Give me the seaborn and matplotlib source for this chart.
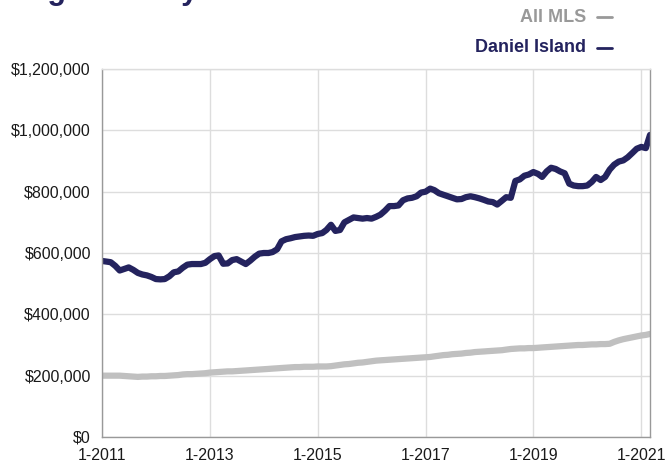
import pandas as pd
import matplotlib.pyplot as plt
from matplotlib.ticker import FuncFormatter
import seaborn as sns

# monthly median prices, Jan 2011 - Mar 2021
months = pd.date_range('2011-01-01', '2021-03-01', freq='MS')

daniel_island = [
    574, 572, 570, 558, 543, 548, 553, 545, 535, 530, 527, 522,
    515, 514, 515, 524, 537, 540, 552, 562, 564, 564, 564, 568,
    580, 590, 592, 565, 566, 577, 580, 572, 564, 575, 588, 598,
    600, 600, 603, 612, 638, 645, 648, 652, 654, 656, 657, 656,
    662, 665, 675, 692, 672, 675, 700, 708, 716, 714, 712, 714,
    712, 718, 725, 738, 753, 753, 755, 772, 778, 780, 785, 797,
    800, 810, 805, 795, 790, 785, 780, 775, 776, 782, 785, 782,
    778, 773, 768, 766, 758, 770, 782, 780, 835, 840, 852, 856,
    864, 858, 848, 866, 878, 874, 866, 860, 826, 820, 818, 818,
    820, 832, 848, 838, 848, 872, 888, 898, 902, 912, 926, 940,
    946, 942, 985,
]

all_mls = [
    200, 200, 200, 200, 200, 199, 198, 197, 196, 197, 197, 198,
    198, 199, 199, 200, 201, 202, 204, 205, 205, 206, 207, 208,
    210, 211, 212, 213, 214, 214, 215, 216, 217, 218, 219, 220,
    221, 222, 223, 224, 225, 226, 227, 228, 228, 229, 229, 229,
    230, 230, 230, 231, 233, 235, 237, 238, 240, 242, 243, 245,
    247, 249, 250, 251, 252, 253, 254, 255, 256, 257, 258, 259,
    260, 261, 263, 265, 267, 268, 270, 271, 272, 274, 275, 277,
    278, 279, 280, 281, 282, 283, 285, 287, 288, 289, 289, 290,
    290, 291, 292, 293, 294, 295, 296, 297, 298, 299, 300, 300,
    301, 302, 302, 303, 303, 304, 310, 315, 319, 322, 325, 328,
    331, 333, 336,
]

series_names = ['All MLS', 'Daniel Island']
colors = {'All MLS': '#c0c0c0', 'Daniel Island': '#24235e'}
legend_colors = {'All MLS': '#999999', 'Daniel Island': '#24235e'}

df = pd.concat([
    pd.DataFrame({'month': months, 'price': [v * 1000 for v in all_mls], 'area': 'All MLS'}),
    pd.DataFrame({'month': months, 'price': [v * 1000 for v in daniel_island], 'area': 'Daniel Island'}),
])

sns.set_style('white')
plt.rcParams['font.family'] = ['Liberation Sans', 'DejaVu Sans']

fig = plt.figure(figsize=(6.66, 4.66), dpi=100)
ax = fig.add_axes([102 / 666, 29 / 466, 548 / 666, 368 / 466])

sns.lineplot(data=df, x='month', y='price', hue='area', palette=colors,
             hue_order=series_names, linewidth=4.5, legend=False, ax=ax)

ax.set_xlim(months[0], months[-1])
ax.set_ylim(0, 1200000)
ax.set_yticks(range(0, 1200001, 200000))
ax.yaxis.set_major_formatter(FuncFormatter(lambda v, p: '$' + format(int(v), ',')))
xt = pd.to_datetime(['2011-01-01', '2013-01-01', '2015-01-01', '2017-01-01', '2019-01-01', '2021-01-01'])
ax.set_xticks(xt)
ax.set_xticklabels(['1-' + str(d.year) for d in xt])
ax.set_xlabel('')
ax.set_ylabel('')

ax.grid(True, color='#dddddd', linewidth=1)
ax.set_axisbelow(True)
for s in ax.spines.values():
    s.set_color('#999999')
    s.set_linewidth(1)
ax.spines['top'].set_color('#dddddd')
ax.tick_params(axis='both', which='major', length=5, width=1, color='#999999',
               labelsize=11.5, labelcolor='#1a1a1a', direction='out', pad=3)

# legend drawn as right-aligned text with a short dash after it
for name, ypix in zip(series_names, [17, 48]):
    fig.text(586 / 666, 1 - ypix / 466, name, ha='right', va='center', fontsize=13,
             fontweight='bold', color=legend_colors[name])
    fig.add_artist(plt.Line2D([597 / 666, 612 / 666], [1 - ypix / 466] * 2,
                              color=legend_colors[name], linewidth=2))

# title, cropped off the top edge as in the original page
fig.text(0, 1 + 1 / 466, 'Single-Family Detached', ha='left', va='baseline',
         fontsize=22, fontweight='bold', color='#24235e')

fig.savefig('out.png', dpi=100)
